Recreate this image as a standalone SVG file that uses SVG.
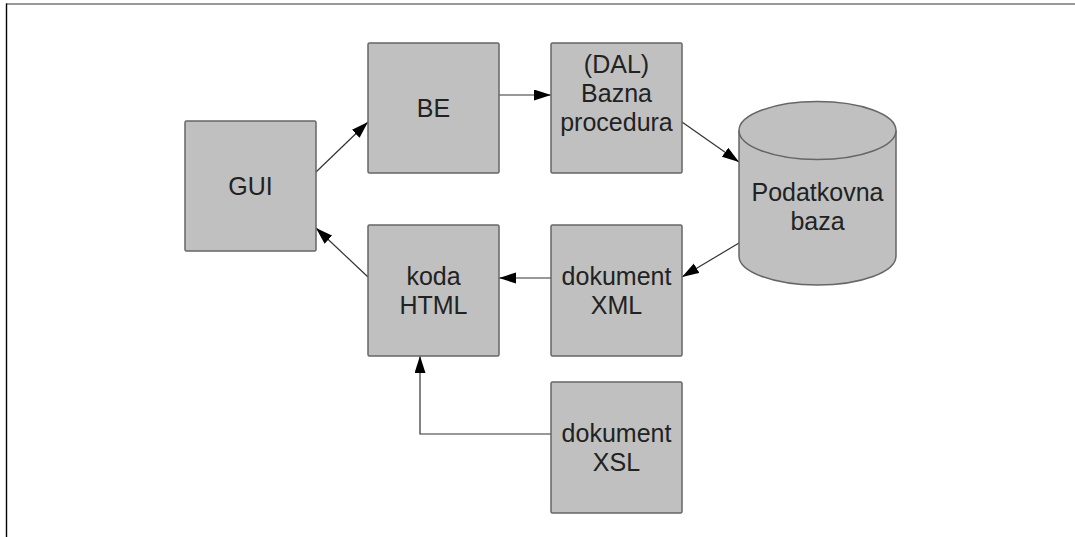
<svg xmlns="http://www.w3.org/2000/svg" width="1075" height="537" viewBox="0 0 1075 537">
<style>
.box{fill:#c0c0c0;stroke:#666;stroke-width:1.5}
.t{font-family:"Liberation Sans",Arial,sans-serif;font-size:25px;fill:#222;text-anchor:middle}
.c{fill:none;stroke:#333;stroke-width:1.2}
</style>
<defs>
<marker id="ah" markerUnits="userSpaceOnUse" markerWidth="18" markerHeight="12" refX="17" refY="5.5" orient="auto">
<path d="M0,0 L17,5.5 L0,11 z" fill="#000"/>
</marker>
</defs>
<rect width="1075" height="537" fill="#fff"/>
<line x1="6" y1="4" x2="1075" y2="4" stroke="#777" stroke-width="1.6"/>
<line x1="6.5" y1="3.5" x2="6.5" y2="537" stroke="#000" stroke-width="1.4"/>
<g id="connectors">
<line class="c" x1="316" y1="172" x2="368" y2="122" marker-end="url(#ah)"/>
<line class="c" x1="499" y1="95" x2="551" y2="95" marker-end="url(#ah)"/>
<line class="c" x1="682" y1="122" x2="739" y2="162" marker-end="url(#ah)"/>
<line class="c" x1="739" y1="243" x2="682" y2="277" marker-end="url(#ah)"/>
<line class="c" x1="551" y1="278" x2="499" y2="278" marker-end="url(#ah)"/>
<line class="c" x1="368" y1="277" x2="316" y2="228" marker-end="url(#ah)"/>
<polyline class="c" points="551,434 420,434 420,356" marker-end="url(#ah)"/>
</g>
<g id="gui">
<rect class="box" x="185" y="121" width="131" height="130" rx="1.5"/>
<text class="t" x="250.5" y="195">GUI</text>
</g>
<g id="be">
<rect class="box" x="368" y="43" width="131" height="130" rx="1.5"/>
<text class="t" x="433.5" y="117">BE</text>
</g>
<g id="dal">
<rect class="box" x="551" y="43" width="131" height="130" rx="1.5"/>
<text class="t" x="616.5" y="73">(DAL)</text>
<text class="t" x="616.5" y="102">Bazna</text>
<text class="t" x="616.5" y="131">procedura</text>
</g>
<g id="db">
<path class="box" d="M739,130.5 L739,256 A78.5,29 0 0 0 896,256 L896,130.5"/>
<ellipse class="box" cx="817.5" cy="130.5" rx="78.5" ry="29"/>
<text class="t" x="817.5" y="201">Podatkovna</text>
<text class="t" x="817.5" y="230">baza</text>
</g>
<g id="html">
<rect class="box" x="368" y="225" width="131" height="131" rx="1.5"/>
<text class="t" x="433.5" y="285">koda</text>
<text class="t" x="433.5" y="314">HTML</text>
</g>
<g id="xml">
<rect class="box" x="551" y="225" width="131" height="131" rx="1.5"/>
<text class="t" x="616.5" y="285">dokument</text>
<text class="t" x="616.5" y="314">XML</text>
</g>
<g id="xsl">
<rect class="box" x="551" y="382" width="131" height="131" rx="1.5"/>
<text class="t" x="616.5" y="442">dokument</text>
<text class="t" x="616.5" y="471">XSL</text>
</g>
</svg>
